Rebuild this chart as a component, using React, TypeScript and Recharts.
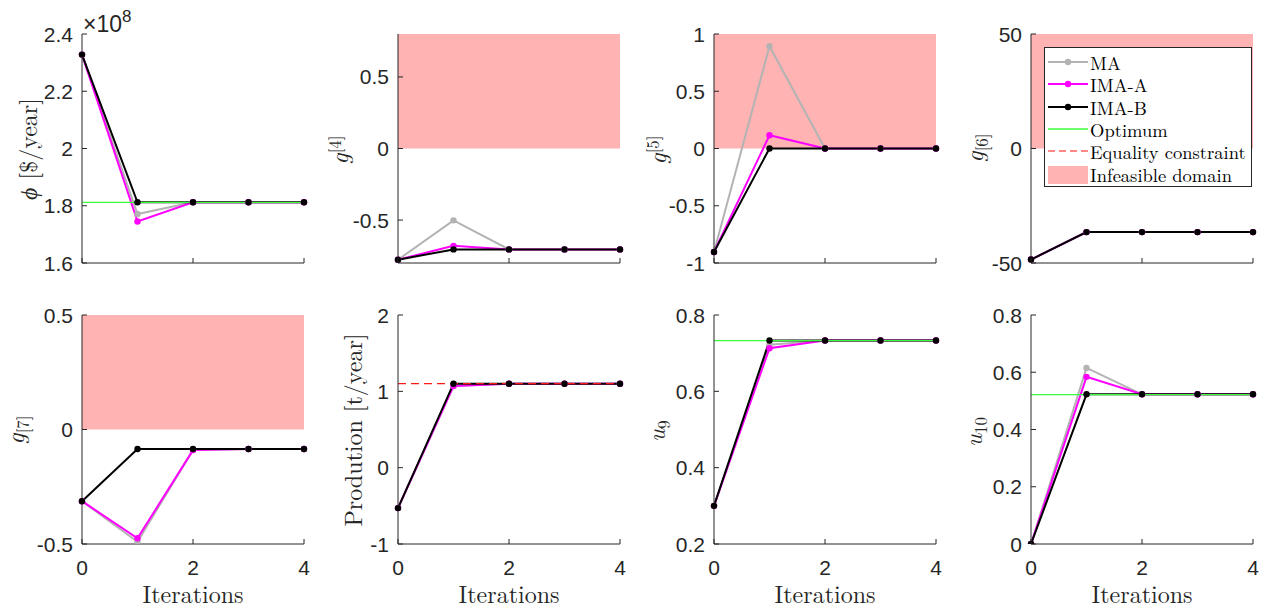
import React from 'react';
import {
  ComposedChart,
  Line,
  XAxis,
  YAxis,
  ReferenceArea,
  ReferenceLine,
  Legend,
} from 'recharts';

// iterations shared by all panels
const iterations = [0, 1, 2, 3, 4];
const xTicks = [0, 2, 4];

// phi [$ / year], in units of 1e8
const phiMA = [2.328, 1.771, 1.812, 1.812, 1.812];
const phiIMAA = [2.328, 1.745, 1.812, 1.812, 1.812];
const phiIMAB = [2.328, 1.812, 1.812, 1.812, 1.812];
const phiOpt = 1.812;
const phiTicks = [1.6, 1.8, 2, 2.2, 2.4];

// g[4]
const g4MA = [-0.777, -0.502, -0.705, -0.705, -0.705];
const g4IMAA = [-0.777, -0.68, -0.705, -0.705, -0.705];
const g4IMAB = [-0.777, -0.705, -0.705, -0.705, -0.705];
const g4Ticks = [-0.5, 0, 0.5];

// g[5]
const g5MA = [-0.904, 0.893, 0, 0, 0];
const g5IMAA = [-0.904, 0.116, 0, 0, 0];
const g5IMAB = [-0.904, 0, 0, 0, 0];
const g5Ticks = [-1, -0.5, 0, 0.5, 1];

// g[6]
const g6MA = [-48.5, -36.5, -36.5, -36.5, -36.5];
const g6IMAA = [-48.5, -36.5, -36.5, -36.5, -36.5];
const g6IMAB = [-48.5, -36.5, -36.5, -36.5, -36.5];
const g6Ticks = [-50, 0, 50];

// g[7]
const g7MA = [-0.313, -0.49, -0.09, -0.085, -0.085];
const g7IMAA = [-0.313, -0.475, -0.09, -0.085, -0.085];
const g7IMAB = [-0.313, -0.085, -0.085, -0.085, -0.085];
const g7Ticks = [-0.5, 0, 0.5];

// production [t / year]
const prodMA = [-0.53, 1.07, 1.1, 1.1, 1.1];
const prodIMAA = [-0.53, 1.07, 1.1, 1.1, 1.1];
const prodIMAB = [-0.53, 1.1, 1.1, 1.1, 1.1];
const prodEq = 1.1;
const prodTicks = [-1, 0, 1, 2];

// u9
const u9MA = [0.3, 0.722, 0.733, 0.733, 0.733];
const u9IMAA = [0.3, 0.713, 0.733, 0.733, 0.733];
const u9IMAB = [0.3, 0.733, 0.733, 0.733, 0.733];
const u9Opt = 0.733;
const u9Ticks = [0.2, 0.4, 0.6, 0.8];

// u10
const u10MA = [0, 0.615, 0.523, 0.523, 0.523];
const u10IMAA = [0, 0.584, 0.523, 0.523, 0.523];
const u10IMAB = [0, 0.523, 0.523, 0.523, 0.523];
const u10Opt = 0.522;
const u10Ticks = [0, 0.2, 0.4, 0.6, 0.8];

const legendLabels = ['MA', 'IMA-A', 'IMA-B', 'Optimum', 'Equality constraint', 'Infeasible domain'];

const GREY = '#b3b3b3';
const MAGENTA = '#ff00ff';
const BLACK = '#000000';
const GREEN = '#3cff3c';
const RED = '#ff1a1a';
const PINK = '#ffb3b3';
const AX = '#262626';
const SANS = '"Liberation Sans", Arial, sans-serif';
const SERIF = '"Latin Modern Roman", "CMU Serif", "Liberation Serif", serif';

// layout
const PW = 222;
const PH = 229;
const colLeft = [82, 398, 714, 1031];
const rowTop = [34, 315];
const AXW = 90;
const AXH = 50;
const MT = 22;
const MR = 15;

const makeRows = (ma: number[], a: number[], b: number[]) =>
  iterations.map((it, i) => ({ it, ma: ma[i], imaA: a[i], imaB: b[i] }));

function YTick(props: any) {
  const { x, y, payload } = props;
  return (
    <g>
      <line x1={x} x2={x + 5} y1={y} y2={y} stroke={AX} strokeWidth={1} />
      <text x={x - 9} y={y} dy={7.5} textAnchor="end" fill={AX} fontSize={21} fontFamily={SANS}>
        {String(payload.value)}
      </text>
    </g>
  );
}

function XTick(props: any) {
  const { x, y, payload, showLabel } = props;
  return (
    <g>
      <line x1={x} x2={x} y1={y} y2={y - 5} stroke={AX} strokeWidth={1} />
      {showLabel && (
        <text x={x} y={y + 31} textAnchor="middle" fill={AX} fontSize={21} fontFamily={SANS}>
          {String(payload.value)}
        </text>
      )}
    </g>
  );
}

function LegendBox() {
  const kinds = ['ma', 'a', 'b', 'opt', 'eq', 'inf'];
  return (
    <div
      style={{
        width: 208,
        height: 140,
        boxSizing: 'border-box',
        border: `1px solid ${AX}`,
        background: '#fff',
        paddingTop: 3,
      }}
    >
      {legendLabels.map((label, i) => {
        const k = kinds[i];
        const color = k === 'ma' ? GREY : k === 'a' ? MAGENTA : k === 'b' ? BLACK : k === 'opt' ? GREEN : '#ff6060';
        return (
          <div key={label} style={{ height: 22.3, display: 'flex', alignItems: 'center' }}>
            <svg width={48} height={22} style={{ flex: 'none' }}>
              {k === 'inf' ? (
                <rect x={3} y={3} width={40} height={18} fill={PINK} />
              ) : (
                <line
                  x1={3}
                  x2={43}
                  y1={11}
                  y2={11}
                  stroke={color}
                  strokeWidth={k === 'opt' || k === 'eq' ? 1.5 : 2}
                  strokeDasharray={k === 'eq' ? '7 4' : undefined}
                />
              )}
              {(k === 'ma' || k === 'a' || k === 'b') && <circle cx={23} cy={11} r={3.2} fill={color} />}
            </svg>
            <span
              style={{
                fontFamily: SERIF,
                fontSize: 18.5,
                lineHeight: '18px',
                color: '#000',
                whiteSpace: 'nowrap',
                marginLeft: -3,
              }}
            >
              {label}
            </span>
          </div>
        );
      })}
    </div>
  );
}

interface PanelCfg {
  col: number;
  row: number;
  domain: [number, number];
  ticks: number[];
  rows: { it: number; ma: number; imaA: number; imaB: number }[];
  optimum?: number;
  equality?: number;
  infeasible?: boolean;
  legend?: boolean;
}

function Panel({ cfg }: { cfg: PanelCfg }) {
  const left = colLeft[cfg.col] - AXW;
  const top = rowTop[cfg.row] - MT;
  const dot = (c: string) => ({ r: 3.2, fill: c, stroke: c, strokeWidth: 0 });
  return (
    <div style={{ position: 'absolute', left, top }}>
      <ComposedChart
        width={AXW + PW + MR}
        height={MT + PH + AXH}
        data={cfg.rows}
        margin={{ top: MT, right: MR, bottom: 0, left: 0 }}
      >
        <XAxis
          dataKey="it"
          type="number"
          domain={[0, 4]}
          ticks={xTicks}
          interval={0}
          height={AXH}
          axisLine={{ stroke: AX, strokeWidth: 1 }}
          tickLine={false}
          tickSize={0}
          tickMargin={0}
          tick={(p: any) => <XTick {...p} showLabel={cfg.row === 1} />}
        />
        <YAxis
          type="number"
          domain={cfg.domain}
          ticks={cfg.ticks}
          interval={0}
          allowDataOverflow
          width={AXW}
          axisLine={{ stroke: AX, strokeWidth: 1 }}
          tickLine={false}
          tickSize={0}
          tickMargin={0}
          tick={(p: any) => <YTick {...p} />}
        />
        {cfg.infeasible && (
          <ReferenceArea y1={0} y2={cfg.domain[1]} fill={PINK} fillOpacity={1} stroke="none" ifOverflow="visible" />
        )}
        <Line type="linear" dataKey="ma" stroke={GREY} strokeWidth={2} dot={dot(GREY)} activeDot={false} isAnimationActive={false} />
        <Line type="linear" dataKey="imaA" stroke={MAGENTA} strokeWidth={2} dot={dot(MAGENTA)} activeDot={false} isAnimationActive={false} />
        <Line type="linear" dataKey="imaB" stroke={BLACK} strokeWidth={2} dot={dot(BLACK)} activeDot={false} isAnimationActive={false} />
        {cfg.optimum !== undefined && (
          <ReferenceLine y={cfg.optimum} stroke={GREEN} strokeWidth={1.3} zIndex={450} ifOverflow="visible" />
        )}
        {cfg.equality !== undefined && (
          <ReferenceLine y={cfg.equality} stroke={RED} strokeWidth={1.3} strokeDasharray="8 5" zIndex={450} ifOverflow="visible" />
        )}
        {cfg.legend && (
          <Legend
            layout="vertical"
            align="center"
            verticalAlign="middle"
            content={() => <LegendBox />}
            wrapperStyle={{ left: 103, top: MT + 13, width: 208, height: 140 }}
          />
        )}
      </ComposedChart>
    </div>
  );
}

const panels: PanelCfg[] = [
  { col: 0, row: 0, domain: [1.6, 2.4], ticks: phiTicks, rows: makeRows(phiMA, phiIMAA, phiIMAB), optimum: phiOpt },
  { col: 1, row: 0, domain: [-0.8, 0.8], ticks: g4Ticks, rows: makeRows(g4MA, g4IMAA, g4IMAB), infeasible: true },
  { col: 2, row: 0, domain: [-1, 1], ticks: g5Ticks, rows: makeRows(g5MA, g5IMAA, g5IMAB), infeasible: true },
  { col: 3, row: 0, domain: [-50, 50], ticks: g6Ticks, rows: makeRows(g6MA, g6IMAA, g6IMAB), infeasible: true, legend: true },
  { col: 0, row: 1, domain: [-0.5, 0.5], ticks: g7Ticks, rows: makeRows(g7MA, g7IMAA, g7IMAB), infeasible: true },
  { col: 1, row: 1, domain: [-1, 2], ticks: prodTicks, rows: makeRows(prodMA, prodIMAA, prodIMAB), equality: prodEq },
  { col: 2, row: 1, domain: [0.2, 0.8], ticks: u9Ticks, rows: makeRows(u9MA, u9IMAA, u9IMAB), optimum: u9Opt },
  { col: 3, row: 1, domain: [0, 0.8], ticks: u10Ticks, rows: makeRows(u10MA, u10IMAA, u10IMAB), optimum: u10Opt },
];

const sup = { fontSize: '0.7em', verticalAlign: '0.45em', fontStyle: 'normal' as const };
const sub = { fontSize: '0.7em', verticalAlign: '-0.3em', fontStyle: 'normal' as const };

const yLabels: { x: number; y: number; node: React.ReactNode }[] = [
  { x: 27, y: 149, node: <><i>ϕ</i> [$/year]</> },
  { x: 336, y: 150, node: <><i>g</i><span style={sup}>[4]</span></> },
  { x: 654, y: 150, node: <><i>g</i><span style={sup}>[5]</span></> },
  { x: 977, y: 148, node: <><i>g</i><span style={sub}>[6]</span></> },
  { x: 18, y: 430, node: <><i>g</i><span style={sub}>[7]</span></> },
  { x: 352, y: 430, node: <>Prodution [t/year]</> },
  { x: 659, y: 431, node: <><i>u</i><span style={sub}>9</span></> },
  { x: 976, y: 432, node: <><i>u</i><span style={sub}>10</span></> },
];

export default function App() {
  return (
    <div
      style={{
        position: 'absolute',
        left: 0,
        top: 0,
        width: 1270,
        height: 609,
        background: '#fff',
        overflow: 'hidden',
      }}
    >
      {panels.map((p, i) => (
        <Panel key={i} cfg={p} />
      ))}
      {yLabels.map((l, i) => (
        <div
          key={i}
          style={{
            position: 'absolute',
            left: l.x,
            top: l.y,
            transform: 'translate(-50%, -50%) rotate(-90deg)',
            fontFamily: SERIF,
            fontSize: 24,
            color: AX,
            whiteSpace: 'nowrap',
            lineHeight: '24px',
          }}
        >
          {l.node}
        </div>
      ))}
      {colLeft.map((x, i) => (
        <div
          key={i}
          style={{
            position: 'absolute',
            left: x,
            top: 581,
            width: PW,
            textAlign: 'center',
            fontFamily: SERIF,
            fontSize: 24,
            lineHeight: '24px',
            color: AX,
          }}
        >
          Iterations
        </div>
      ))}
      <div
        style={{
          position: 'absolute',
          left: 83,
          top: 4,
          fontFamily: SANS,
          fontSize: 23,
          lineHeight: '26px',
          color: AX,
          whiteSpace: 'nowrap',
        }}
      >
        ×10<span style={{ fontSize: 17, verticalAlign: '10px' }}>8</span>
      </div>
    </div>
  );
}
